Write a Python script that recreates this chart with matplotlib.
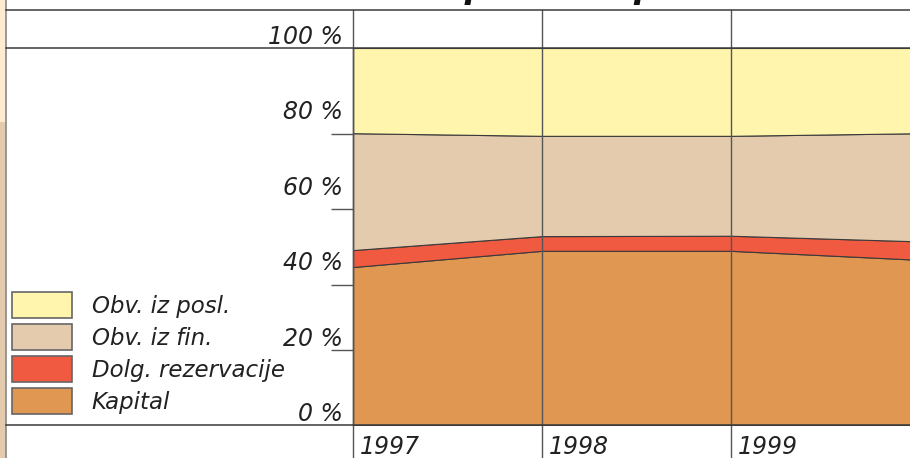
import numpy as np
import matplotlib.pyplot as plt
from matplotlib.patches import Patch, Rectangle
from matplotlib.lines import Line2D
from matplotlib.transforms import offset_copy

# ---------------------------------------------------------------------------
# data (shares in %; 2000 only partly visible)
# ---------------------------------------------------------------------------
years = [1997, 1998, 1999, 2000]
kapital = [41.9, 46.2, 46.2, 43.8]
dolg_rezervacije = [4.5, 3.9, 4.0, 4.9]
obv_iz_fin = [31.0, 26.6, 26.5, 28.7]
obv_iz_posl = [22.6, 23.3, 23.3, 22.6]

series_labels = ['Kapital', 'Dolg. rezervacije', 'Obv. iz fin.', 'Obv. iz posl.']
series_colors = ['#E09752', '#F05A40', '#E5CBAE', '#FFF5AD']

y_labels = [0, 20, 40, 60, 80, 100]
tick_marks = [19.9, 37.1, 57.3, 77.2]
year_labels = ['1997', '1998', '1999']

title_text = 'G r a f  3 :  S e s t a v a  p a s i v  p o  v i r i h'

# ---------------------------------------------------------------------------
W, H = 910, 458
FONT = dict(family=['DejaVu Sans'], style='italic', weight='normal')
TXT = '#222222'
LINE = '#3a3a3a'


def fx(x):
    return x / W


def fy(y):
    return 1 - y / H


fig = plt.figure(figsize=(W / 100, H / 100), dpi=100)

# plot area: x 353..910, y 48..425 (pixels)
ax = fig.add_axes([fx(353), fy(425), fx(910 - 353), (425 - 48) / H])
ax.stackplot(years, kapital, dolg_rezervacije, obv_iz_fin, obv_iz_posl,
             colors=series_colors, edgecolor=LINE, linewidth=0.8)
ax.set_xlim(1997, 1997 + (910 - 353) / 189)
ax.set_ylim(0, 100)

for s in ['top', 'right', 'bottom']:
    ax.spines[s].set_visible(False)
ax.spines['left'].set_color(LINE)
ax.spines['left'].set_linewidth(1.0)

ax.set_xticks([])
ax.set_yticks(tick_marks)
ax.set_yticklabels([])
ax.tick_params(axis='y', length=16, width=1.0, color='#555555', direction='out')

# year lines running through header and label rows
ymin_ext = -(458 - 425) / 377
ymax_ext = 1 + (48 - 10) / 377
for yr in years[:3]:
    ax.axvline(yr, ymin=ymin_ext, ymax=ymax_ext, color='#555555',
               linewidth=1.0, clip_on=False, zorder=5)

# y labels, baseline a few pixels above the value
ylab_tr = offset_copy(ax.get_yaxis_transform(), fig=fig, x=-10, y=4, units='dots')
for v in y_labels:
    ax.text(0, v, f'{v} %', transform=ylab_tr, ha='right', va='baseline',
            fontsize=17, color=TXT, **FONT)

# year labels under the plot
xlab_tr = offset_copy(ax.get_xaxis_transform(), fig=fig, x=7, y=-29, units='dots')
for yr, lab in zip(years, year_labels):
    ax.text(yr, 0, lab, transform=xlab_tr, ha='left', va='baseline',
            fontsize=17, color=TXT, **FONT)

# frame lines of the table
for yy in [10, 48, 425]:
    fig.add_artist(Line2D([fx(6), fx(910)], [fy(yy), fy(yy)], color=LINE,
                          linewidth=1.1, transform=fig.transFigure, zorder=6))

# page edge on the left
fig.add_artist(Rectangle((0, fy(458)), fx(5.5), 1, transform=fig.transFigure,
                         facecolor='#E5CBAE', edgecolor='none', zorder=1))
fig.add_artist(Rectangle((0, fy(122)), fx(5.5), 122 / H, transform=fig.transFigure,
                         facecolor='#FDEBD2', edgecolor='none', zorder=1))
fig.add_artist(Line2D([fx(6), fx(6)], [0, 1], color='#888888', linewidth=1.2,
                      transform=fig.transFigure, zorder=2))

# title row, mostly above the visible area
fig.text(fx(12), fy(-2), title_text, ha='left', va='baseline', fontsize=24,
         color='#111111', family=['DejaVu Sans'], style='italic', weight='bold')

# legend
handles = [Patch(facecolor=c, edgecolor='#666666', linewidth=1.2, label=l)
           for c, l in zip(series_colors[::-1], series_labels[::-1])]
leg = fig.legend(handles=handles, loc='upper left',
                 bbox_to_anchor=(fx(12), fy(292)), frameon=False,
                 prop=dict(size=16.5, **FONT), handlelength=2.62,
                 handleheight=1.37, labelspacing=0.26, handletextpad=0.85,
                 borderpad=0, borderaxespad=0)
for t in leg.get_texts():
    t.set_color(TXT)

fig.savefig('out.png', dpi=100)
